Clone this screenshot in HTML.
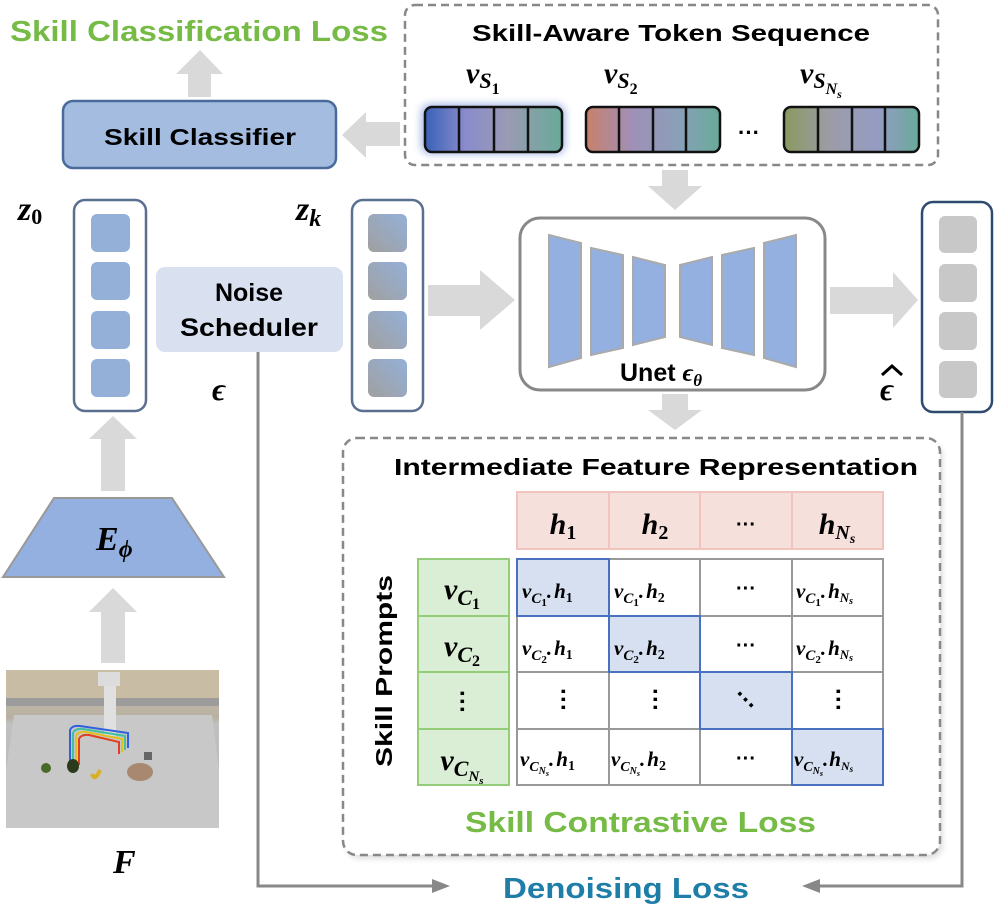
<!DOCTYPE html>
<html><head><meta charset="utf-8"><style>
html,body{margin:0;padding:0;background:#fff;}
svg{display:block;}
.t{font-family:"Liberation Sans",sans-serif;font-weight:bold;}
.m{font-family:"Liberation Serif",serif;font-weight:bold;font-style:italic;}
</style></head><body>
<svg width="996" height="910" viewBox="0 0 996 910" xmlns="http://www.w3.org/2000/svg">
<defs>
<linearGradient id="g1" x1="0" x2="1"><stop offset="0" stop-color="#3a62b8"/><stop offset="0.3" stop-color="#8a8ccc"/><stop offset="0.6" stop-color="#9a9ab4"/><stop offset="1" stop-color="#68aa98"/></linearGradient>
<linearGradient id="g2" x1="0" x2="1"><stop offset="0" stop-color="#c8806a"/><stop offset="0.35" stop-color="#a090b8"/><stop offset="0.7" stop-color="#88a0b8"/><stop offset="1" stop-color="#68aa98"/></linearGradient>
<linearGradient id="g3" x1="0" x2="1"><stop offset="0" stop-color="#8a9a60"/><stop offset="0.35" stop-color="#9c9ca8"/><stop offset="0.7" stop-color="#949cc4"/><stop offset="1" stop-color="#68aa98"/></linearGradient>
<linearGradient id="gz" x1="0" y1="1" x2="1" y2="0"><stop offset="0" stop-color="#a0a0a0"/><stop offset="1" stop-color="#94b0d8"/></linearGradient>
<linearGradient id="gimg" x1="0" y1="0" x2="0" y2="1"><stop offset="0" stop-color="#c8c0b0"/><stop offset="0.3" stop-color="#b8b0a0"/><stop offset="0.34" stop-color="#c0c0c0"/><stop offset="1" stop-color="#b4b4b4"/></linearGradient>
<filter id="glow" x="-20%" y="-40%" width="140%" height="180%"><feGaussianBlur stdDeviation="4"/></filter>
<filter id="sh" x="-5%" y="-5%" width="110%" height="110%"><feGaussianBlur stdDeviation="3"/></filter>
</defs>

<text class="t" x="10" y="41" font-size="29" fill="#76bb46" textLength="378" lengthAdjust="spacingAndGlyphs">Skill Classification Loss</text>
<polygon points="176,74 200,50 223,74 211,74 211,97 188,97 188,74" fill="#d9d9d9"/>
<rect x="63" y="101" width="273" height="67" rx="10" fill="#a4bce0" stroke="#4a6a9c" stroke-width="2.5"/>
<text class="t" x="200" y="145" font-size="23" text-anchor="middle" textLength="192" lengthAdjust="spacingAndGlyphs">Skill Classifier</text>
<polygon points="342,135 366,112 366,122 400,122 400,146 366,146 366,158" fill="#d9d9d9"/>

<rect x="405" y="5" width="533" height="160" rx="10" fill="#fff" stroke="#888" stroke-width="2.5" stroke-dasharray="8,5"/>
<text class="t" x="671" y="41" font-size="23" text-anchor="middle" textLength="398" lengthAdjust="spacingAndGlyphs">Skill-Aware Token Sequence</text>
<text class="m" x="466" y="83" font-size="30" font-style="normal">v<tspan font-style="italic" font-size="22" dy="5">S</tspan><tspan font-style="normal" font-size="16" dy="6">1</tspan></text>
<text class="m" x="604" y="83" font-size="30" font-style="normal">v<tspan font-style="italic" font-size="22" dy="5">S</tspan><tspan font-style="normal" font-size="16" dy="6">2</tspan></text>
<text class="m" x="800" y="83" font-size="30" font-style="normal">v<tspan font-style="italic" font-size="22" dy="5">S</tspan><tspan font-style="italic" font-size="16" dy="6">N</tspan><tspan font-style="italic" font-size="12" dy="4">s</tspan></text>
<rect x="421" y="104" width="144" height="50" rx="9" fill="#5a7ad0" opacity="0.55" filter="url(#glow)"/>
<rect x="425" y="107" width="137" height="45" rx="7" fill="url(#g1)" stroke="#111" stroke-width="2.5"/>
<path d="M459 107V152M494 107V152M528 107V152" stroke="#111" stroke-width="2.5"/>
<rect x="586" y="107" width="134" height="45" rx="7" fill="url(#g2)" stroke="#111" stroke-width="2.5"/>
<path d="M619 107V152M653 107V152M686 107V152" stroke="#111" stroke-width="2.5"/>
<text class="t" x="749" y="140" font-size="22" text-anchor="middle">···</text>
<rect x="784" y="107" width="135" height="45" rx="7" fill="url(#g3)" stroke="#111" stroke-width="2.5"/>
<path d="M818 107V152M852 107V152M885 107V152" stroke="#111" stroke-width="2.5"/>

<polygon points="662,170 688,170 688,186 702,186 675,210 648,186 662,186" fill="#d9d9d9"/>

<text class="m" x="18" y="220" font-size="34">z<tspan font-style="normal" font-size="22" dy="4">0</tspan></text>
<rect x="74" y="200" width="72" height="211" rx="11" fill="#fff" stroke="#5a7090" stroke-width="2.5"/>
<rect x="91" y="214" width="39" height="38" rx="6" fill="#94b0d8"/>
<rect x="91" y="262" width="39" height="38" rx="6" fill="#94b0d8"/>
<rect x="91" y="311" width="39" height="38" rx="6" fill="#94b0d8"/>
<rect x="91" y="359" width="39" height="38" rx="6" fill="#94b0d8"/>

<rect x="156" y="267" width="187" height="85" rx="9" fill="#d9e0ef"/>
<text class="t" x="249" y="301" font-size="25" text-anchor="middle">Noise</text>
<text class="t" x="249" y="336" font-size="25" text-anchor="middle" textLength="138" lengthAdjust="spacingAndGlyphs">Scheduler</text>
<text class="m" x="212" y="400" font-size="32">ϵ</text>

<text class="m" x="296" y="220" font-size="34">z<tspan font-size="24" dy="6">k</tspan></text>
<rect x="352" y="200" width="71" height="211" rx="11" fill="#fff" stroke="#5a7090" stroke-width="2.5"/>
<rect x="368" y="214" width="39" height="38" rx="6" fill="url(#gz)"/>
<rect x="368" y="262" width="39" height="38" rx="6" fill="url(#gz)"/>
<rect x="368" y="311" width="39" height="38" rx="6" fill="url(#gz)"/>
<rect x="368" y="359" width="39" height="38" rx="6" fill="url(#gz)"/>

<polygon points="428,285 480,285 480,270 515,300 480,330 480,316 428,316" fill="#d9d9d9"/>

<rect x="520" y="218" width="305" height="172" rx="20" fill="#fff" stroke="#888" stroke-width="3"/>
<g fill="#94b0e0" stroke="#aaa" stroke-width="2">
<polygon points="549,235 581,243 581,358 549,367"/>
<polygon points="591,248 623,255 623,348 591,355"/>
<polygon points="633,257 665,265 665,337 633,345"/>
<polygon points="680,265 712,257 712,345 680,337"/>
<polygon points="722,255 754,248 754,355 722,348"/>
<polygon points="764,243 796,235 796,367 764,358"/>
</g>
<text class="t" x="620" y="381" font-size="25">Unet <tspan font-family="Liberation Serif" font-style="italic">ϵ</tspan><tspan font-family="Liberation Serif" font-style="italic" font-size="17" dy="5">θ</tspan></text>

<polygon points="830,287 893,287 893,272 918,300 893,328 893,314 830,314" fill="#d9d9d9"/>
<text class="m" x="880" y="400" font-size="32">ϵ</text>
<path d="M882 375 L892 366 L902 375" stroke="#000" stroke-width="3" fill="none"/>
<rect x="922" y="202" width="70" height="210" rx="11" fill="#fff" stroke="#2e4a6e" stroke-width="2.5"/>
<rect x="939" y="216" width="38" height="37" rx="6" fill="#c8c8c8"/>
<rect x="939" y="264" width="38" height="38" rx="6" fill="#c8c8c8"/>
<rect x="939" y="312" width="38" height="38" rx="6" fill="#c8c8c8"/>
<rect x="939" y="361" width="38" height="37" rx="6" fill="#c8c8c8"/>

<polygon points="662,394 688,394 688,410 702,410 675,430 648,410 662,410" fill="#d9d9d9"/>

<polygon points="101,491 125,491 125,439 137,439 113,416 89,439 101,439" fill="#d9d9d9"/>
<polygon points="101,663 125,663 125,612 137,612 113,588 89,612 101,612" fill="#d9d9d9"/>
<polygon points="54,498 172,498 224,577 3,577" fill="#94b0e0" stroke="#999" stroke-width="2"/>
<text class="m" x="96" y="550" font-size="34">E<tspan font-size="24" dy="7">ϕ</tspan></text>

<g>
<rect x="6" y="670" width="213" height="158" fill="url(#gimg)"/>
<rect x="6" y="670" width="213" height="28" fill="#c8bca4"/>
<rect x="6" y="698" width="213" height="8" fill="#9c9c9c"/>
<polygon points="14,715 212,715 219,770 219,828 6,828 6,770" fill="#c8c8c8"/>
<rect x="98" y="672" width="22" height="14" fill="#dcdcdc"/>
<rect x="104" y="686" width="12" height="50" fill="#e0e0e0"/>
<path d="M70 765 V730 Q72 725 80 726 L128 733 V748" stroke="#3060e0" stroke-width="2" fill="none"/>
<path d="M73 765 V733 Q75 728 83 729 L125 736 V750" stroke="#40c0a0" stroke-width="2" fill="none"/>
<path d="M76 765 V736 Q78 731 86 732 L122 739 V752" stroke="#e0c020" stroke-width="2" fill="none"/>
<path d="M79 765 V739 Q81 734 89 735 L119 742 V754" stroke="#e04020" stroke-width="2" fill="none"/>
<circle cx="46" cy="768" r="5" fill="#4a6a2a"/>
<ellipse cx="73" cy="766" rx="6" ry="7" fill="#2a3a1a"/>
<path d="M92 774 Q95 782 100 770" stroke="#d8b020" stroke-width="4" fill="none"/>
<ellipse cx="140" cy="772" rx="13" ry="9" fill="#a88870"/>
<rect x="144" y="752" width="8" height="8" fill="#666"/>
</g>
<text class="m" x="113" y="873" font-size="34">F</text>

<rect x="346" y="442" width="597" height="417" rx="14" fill="#000" opacity="0.12" filter="url(#sh)"/>
<rect x="343" y="438" width="597" height="417" rx="14" fill="#fff" stroke="#888" stroke-width="2.5" stroke-dasharray="8,5"/>
<text class="t" x="394" y="475" font-size="23" textLength="524" lengthAdjust="spacingAndGlyphs">Intermediate Feature Representation</text>

<rect x="517" y="492" width="366" height="57" fill="#f5e0dc" stroke="#f2c4c0" stroke-width="2"/>
<path d="M609 492V549M700 492V549M792 492V549" stroke="#f2c4c0" stroke-width="2"/>
<g class="m" font-size="30" text-anchor="middle">
<text x="563" y="534">h<tspan font-style="normal" font-size="20" dy="5">1</tspan></text>
<text x="655" y="534">h<tspan font-style="normal" font-size="20" dy="5">2</tspan></text>
<text x="837" y="534">h<tspan font-size="20" dy="5">N</tspan><tspan font-size="14" dy="4">s</tspan></text>
</g>
<text class="t" x="746" y="531" font-size="20" text-anchor="middle">···</text>

<rect x="418" y="559" width="91" height="226" fill="#d9eed4" stroke="#94cc78" stroke-width="2"/>
<path d="M418 616H509M418 672H509M418 729H509" stroke="#94cc78" stroke-width="2"/>
<g class="m" font-size="30" text-anchor="middle">
<text x="462" y="599">v<tspan font-size="22" dy="6">C</tspan><tspan font-style="normal" font-size="16" dy="4">1</tspan></text>
<text x="462" y="656">v<tspan font-size="22" dy="6">C</tspan><tspan font-style="normal" font-size="16" dy="4">2</tspan></text>
<text x="462" y="770">v<tspan font-size="22" dy="6">C</tspan><tspan font-size="15" dy="5">N</tspan><tspan font-size="11" dy="3">s</tspan></text>
</g>
<text class="t" x="464" y="712" font-size="24" text-anchor="middle" transform="rotate(90 464 702)">···</text>

<text class="t" x="0" y="0" font-size="23" text-anchor="middle" transform="translate(392 671) rotate(-90)" textLength="192" lengthAdjust="spacingAndGlyphs">Skill  Prompts</text>

<rect x="517" y="559" width="366" height="226" fill="#fff" stroke="#999" stroke-width="2"/>
<path d="M609 559V785M700 559V785M792 559V785M517 616H883M517 672H883M517 729H883" stroke="#999" stroke-width="2"/>
<g fill="#d6e0f0" stroke="#4a70c0" stroke-width="2">
<rect x="517" y="559" width="92" height="57"/>
<rect x="609" y="616" width="91" height="56"/>
<rect x="700" y="672" width="92" height="57"/>
<rect x="792" y="729" width="91" height="56"/>
</g>
<g class="m" font-size="21">
<text x="522" y="598">v<tspan font-size="15" dy="5">C</tspan><tspan font-style="normal" font-size="11" dy="3">1</tspan><tspan dy="-8">.</tspan><tspan dx="2">h</tspan><tspan font-style="normal" font-size="14" dy="4">1</tspan></text>
<text x="614" y="598">v<tspan font-size="15" dy="5">C</tspan><tspan font-style="normal" font-size="11" dy="3">1</tspan><tspan dy="-8">.</tspan><tspan dx="2">h</tspan><tspan font-style="normal" font-size="14" dy="4">2</tspan></text>
<text x="796" y="598">v<tspan font-size="15" dy="5">C</tspan><tspan font-style="normal" font-size="11" dy="3">1</tspan><tspan dy="-8">.</tspan><tspan dx="2">h</tspan><tspan font-size="13" dy="4">N</tspan><tspan font-size="10" dy="2">s</tspan></text>
<text x="522" y="655">v<tspan font-size="15" dy="5">C</tspan><tspan font-style="normal" font-size="11" dy="3">2</tspan><tspan dy="-8">.</tspan><tspan dx="2">h</tspan><tspan font-style="normal" font-size="14" dy="4">1</tspan></text>
<text x="614" y="655">v<tspan font-size="15" dy="5">C</tspan><tspan font-style="normal" font-size="11" dy="3">2</tspan><tspan dy="-8">.</tspan><tspan dx="2">h</tspan><tspan font-style="normal" font-size="14" dy="4">2</tspan></text>
<text x="796" y="655">v<tspan font-size="15" dy="5">C</tspan><tspan font-style="normal" font-size="11" dy="3">2</tspan><tspan dy="-8">.</tspan><tspan dx="2">h</tspan><tspan font-size="13" dy="4">N</tspan><tspan font-size="10" dy="2">s</tspan></text>
<text x="520" y="766">v<tspan font-size="14" dy="5">C</tspan><tspan font-size="10" dy="3">N</tspan><tspan font-size="8" dy="2">s</tspan><tspan dy="-10">.</tspan><tspan dx="2">h</tspan><tspan font-style="normal" font-size="14" dy="4">1</tspan></text>
<text x="611" y="766">v<tspan font-size="14" dy="5">C</tspan><tspan font-size="10" dy="3">N</tspan><tspan font-size="8" dy="2">s</tspan><tspan dy="-10">.</tspan><tspan dx="2">h</tspan><tspan font-style="normal" font-size="14" dy="4">2</tspan></text>
<text x="794" y="766">v<tspan font-size="14" dy="5">C</tspan><tspan font-size="10" dy="3">N</tspan><tspan font-size="8" dy="2">s</tspan><tspan dy="-10">.</tspan><tspan dx="1">h</tspan><tspan font-size="12" dy="4">N</tspan><tspan font-size="9" dy="2">s</tspan></text>
</g>
<g class="t" font-size="20" text-anchor="middle">
<text x="746" y="595">···</text>
<text x="746" y="652">···</text>
<text x="746" y="765">···</text>
</g>
<g class="t" font-size="24" text-anchor="middle">
<text transform="rotate(90 563 700)" x="563" y="708">···</text>
<text transform="rotate(90 655 700)" x="655" y="708">···</text>
<text transform="rotate(90 838 700)" x="838" y="708">···</text>
<text transform="rotate(45 746 700)" x="746" y="708">···</text>
</g>

<text class="t" x="465" y="832" font-size="29" fill="#76bb46" textLength="351" lengthAdjust="spacingAndGlyphs">Skill Contrastive Loss</text>

<path d="M258 352V886H436" stroke="#888" stroke-width="3" fill="none"/>
<polygon points="450,886 432,879 432,893" fill="#888"/>
<path d="M962 412V886H815" stroke="#888" stroke-width="3" fill="none"/>
<polygon points="802,886 820,879 820,893" fill="#888"/>
<text class="t" x="503" y="898" font-size="29" fill="#1f7ea8" textLength="246" lengthAdjust="spacingAndGlyphs">Denoising Loss</text>
</svg>
</body></html>
